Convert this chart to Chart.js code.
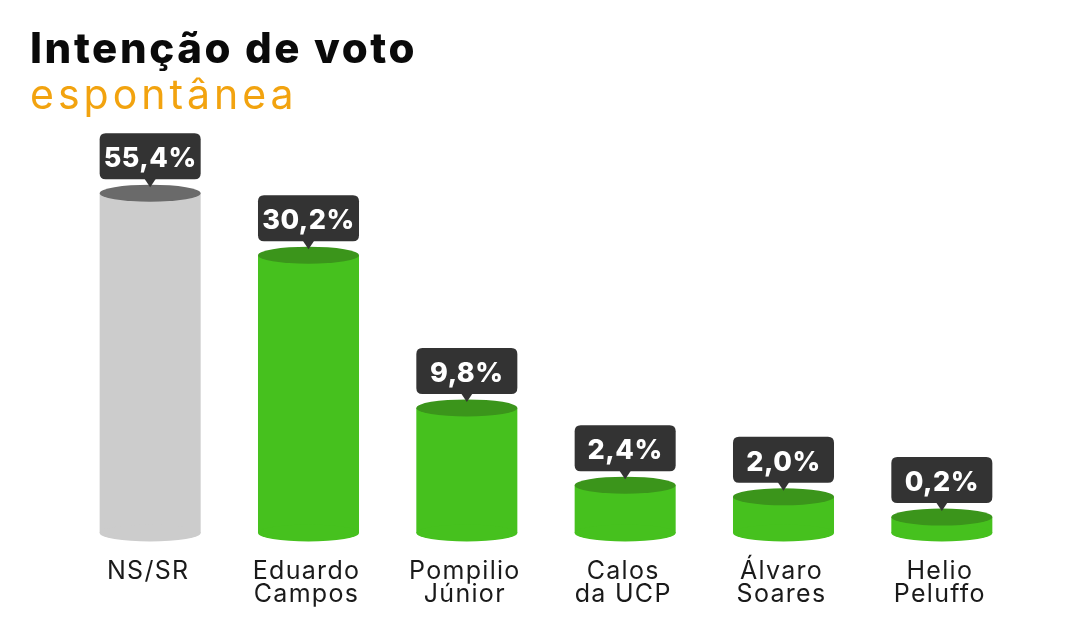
<!DOCTYPE html>
<html>
<head>
<meta charset="utf-8">
<script src="https://cdn.jsdelivr.net/npm/chart.js@4.4.1/dist/chart.umd.min.js"></script>
<style>
  html, body { margin: 0; padding: 0; background: #fff; }
  #wrap { position: relative; width: 1080px; height: 640px; overflow: hidden; }
  #chart { position: absolute; left: 0; top: 0; }
  .title { position: absolute; left: 30px; white-space: nowrap; font-family: Inter, "DejaVu Sans", sans-serif; }
  #t1 { top: 24px; font-size: 42px; line-height: 48px; font-weight: 800; color: #0a0a0a; letter-spacing: 2.6px; }
  #t2 { top: 70px; font-size: 41px; line-height: 48px; font-weight: 400; color: #F2A30F; letter-spacing: 4px; }
</style>
</head>
<body>
<div id="wrap">
  <canvas id="chart" width="1080" height="640"></canvas>
  <div id="t1" class="title">Intenção de voto</div>
  <div id="t2" class="title">espontânea</div>
</div>
<script>
// candidates (two-line labels as printed)
const candidates = [
    ['NS/SR'],
    ['Eduardo', 'Campos'],
    ['Pompilio', 'Júnior'],
    ['Calos', 'da UCP'],
    ['Álvaro', 'Soares'],
    ['Helio', 'Peluffo']
];
// vote share printed in the callouts (%)
const shares = [55.4, 30.2, 9.8, 2.4, 2.0, 0.2];
// the infographic is not drawn to scale: bar levels,
// in the same units as NS/SR = 55.4
const drawnLevels = [55.4, 45.3, 20.4, 7.8, 5.9, 2.6];

const bodyColors = ['#CCCCCC', '#46C11E', '#46C11E', '#46C11E', '#46C11E', '#46C11E'];
const topColors = ['#6A6A6A', '#3B951B', '#3B951B', '#3B951B', '#3B951B', '#3B951B'];

const FONT = 'Inter, "DejaVu Sans", sans-serif';
const RY = 8.5;

function roundRect(ctx, x, y, w, h, r) {
    ctx.beginPath();
    ctx.moveTo(x + r, y);
    ctx.lineTo(x + w - r, y);
    ctx.quadraticCurveTo(x + w, y, x + w, y + r);
    ctx.lineTo(x + w, y + h - r);
    ctx.quadraticCurveTo(x + w, y + h, x + w - r, y + h);
    ctx.lineTo(x + r, y + h);
    ctx.quadraticCurveTo(x, y + h, x, y + h - r);
    ctx.lineTo(x, y + r);
    ctx.quadraticCurveTo(x, y, x + r, y);
    ctx.closePath();
}

// draws bottom/top ellipses, callouts and category labels
const cylinderPlugin = {
    id: 'cylinder',
    afterDatasetsDraw(chart) {
        const ctx = chart.ctx;
        const meta = chart.getDatasetMeta(0);
        ctx.save();
        meta.data.forEach((bar, i) => {
            const half = bar.width / 2;
            // rounded bottom
            ctx.fillStyle = bodyColors[i];
            ctx.beginPath();
            ctx.ellipse(bar.x, bar.base, half, RY, 0, 0, Math.PI * 2);
            ctx.fill();
            // top face
            ctx.fillStyle = topColors[i];
            ctx.beginPath();
            ctx.ellipse(bar.x, bar.y, half, RY, 0, 0, Math.PI * 2);
            ctx.fill();

            // callout box
            const boxH = 46;
            const boxBottom = bar.y - 14;
            ctx.fillStyle = '#333333';
            roundRect(ctx, bar.x - half, boxBottom - boxH, bar.width, boxH, 6);
            ctx.fill();
            ctx.beginPath();
            ctx.moveTo(bar.x - 6, boxBottom - 1);
            ctx.lineTo(bar.x + 6, boxBottom - 1);
            ctx.lineTo(bar.x, bar.y - 6);
            ctx.closePath();
            ctx.fill();

            ctx.fillStyle = '#ffffff';
            ctx.font = '800 27px ' + FONT;
            ctx.textAlign = 'center';
            ctx.textBaseline = 'alphabetic';
            ctx.letterSpacing = '0.5px';
            const txt = shares[i].toFixed(1).replace('.', ',') + '%';
            ctx.fillText(txt, bar.x, boxBottom - 12);

            // category label
            ctx.fillStyle = '#1a1a1a';
            ctx.font = '25px ' + FONT;
            ctx.letterSpacing = '1.3px';
            candidates[i].forEach((line, j) => {
                ctx.fillText(line, bar.x - 2, 579 + j * 23);
            });
        });
        ctx.restore();
    }
};

new Chart(document.getElementById('chart'), {
    type: 'bar',
    data: {
        labels: candidates.map(c => c.join(' ')),
        datasets: [{
            data: drawnLevels,
            backgroundColor: bodyColors,
            borderWidth: 0,
            barPercentage: 0.638,
            categoryPercentage: 1.0
        }]
    },
    options: {
        responsive: false,
        animation: false,
        layout: { padding: { left: 71, right: 59, top: 165, bottom: 107 } },
        plugins: { legend: { display: false }, tooltip: { enabled: false } },
        scales: {
            x: { display: false },
            y: { display: false, min: 0, max: 60 }
        }
    },
    plugins: [cylinderPlugin]
});
</script>
</body>
</html>
